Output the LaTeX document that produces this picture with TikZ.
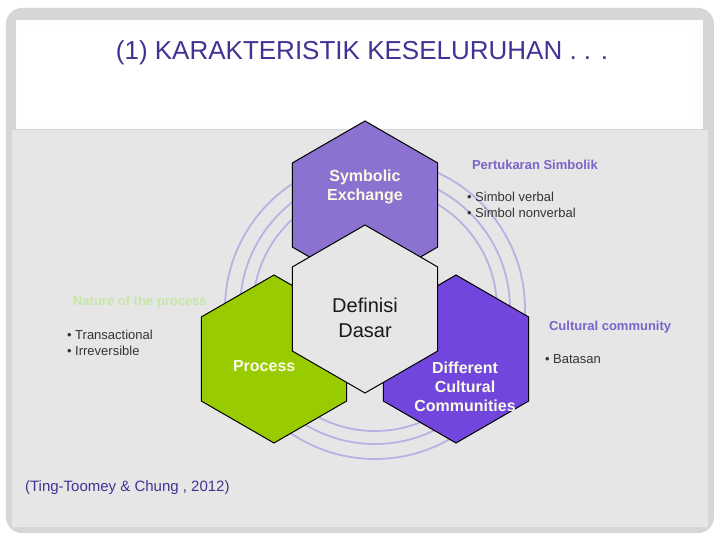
\documentclass[tikz,border=0pt]{standalone}
\usepackage{fontspec}
\setmainfont{Liberation Sans}
\definecolor{bgout}{HTML}{D6D6D6}
\definecolor{bgin}{HTML}{E6E6E6}
\definecolor{titlec}{HTML}{3F3494}
\definecolor{hexA}{HTML}{8B72D0}
\definecolor{hexB}{HTML}{99CC00}
\definecolor{hexC}{HTML}{7146DD}
\definecolor{ring}{HTML}{B9B1E2}
\definecolor{headc}{HTML}{7A64C8}
\definecolor{faintg}{HTML}{C6E6A8}
\definecolor{labc}{HTML}{FAFAE6}
\begin{document}
\begin{tikzpicture}[x=0.5pt,y=-0.5pt,
  hexs/.style={draw=black,line width=0.5pt},
  hexlab/.style={text=labc,font=\bfseries\fontsize{8}{9.5}\selectfont,align=center},
  head/.style={text=headc,font=\bfseries\fontsize{6.5}{8}\selectfont,anchor=west},
  bul/.style={text=black!80,font=\fontsize{6.5}{8}\selectfont,anchor=west,align=left}]
\useasboundingbox (0,0) rectangle (720,540);
\fill[white] (0,0) rectangle (720,540);
\fill[bgout,rounded corners=8pt] (6,8) rectangle (714,533);
\fill[bgin] (12,130) rectangle (708,527);
\fill[white!96!bgout] (16,20) rectangle (703,129);
\fill[white] (24,26) rectangle (695,122);
\node[text=titlec,font=\fontsize{13}{15}\selectfont] (title) at (362,53) {(1) KARAKTERISTIK KESELURUHAN . . .};
% rings
\foreach \r in {122,135,150} \draw[ring,line width=0.9pt] (375,309) circle[radius=\r];
% hexagons, R=84
\newcommand{\hexat}[1]{(#1)+(90:84)--+(150:84)--+(210:84)--+(270:84)--+(330:84)--+(30:84)--cycle}
\coordinate (cA) at (365,205);
\coordinate (cB) at (274,359);
\coordinate (cC) at (456,359);
\coordinate (cM) at (365,309);
\fill[hexA,hexs] \hexat{cA};
\fill[hexB,hexs] \hexat{cB};
\fill[hexC,hexs] \hexat{cC};
\fill[bgin,hexs] \hexat{cM};
\node[hexlab] (la) at (365,187) {Symbolic\\Exchange};
\node[hexlab,anchor=west] (lb) at (226,366) {Process};
\node[hexlab] (lc) at (465,387) {Different\\Cultural\\Communities};
\node[font=\fontsize{10}{12.5}\selectfont,align=center,text=black!90] (lm) at (365,318) {Definisi\\Dasar};
% side texts
\node[head] (h1) at (465,165) {Pertukaran Simbolik};
\node[bul] (b1) at (460,205) {\textbullet\ Simbol verbal\\\textbullet\ Simbol nonverbal};
\node[head] (h2) at (542,327) {Cultural community};
\node[bul] (b2) at (538,359) {\textbullet\ Batasan};
\node[text=faintg,font=\bfseries\fontsize{6.5}{8}\selectfont,anchor=west] (h3) at (66,302) {Nature of the process};
\node[bul] (b3) at (60,343) {\textbullet\ Transactional\\\textbullet\ Irreversible};
\node[text=titlec,font=\fontsize{7.5}{9}\selectfont,anchor=west] (cite) at (18,488) {(Ting-Toomey \& Chung , 2012)};
\end{tikzpicture}
\end{document}
